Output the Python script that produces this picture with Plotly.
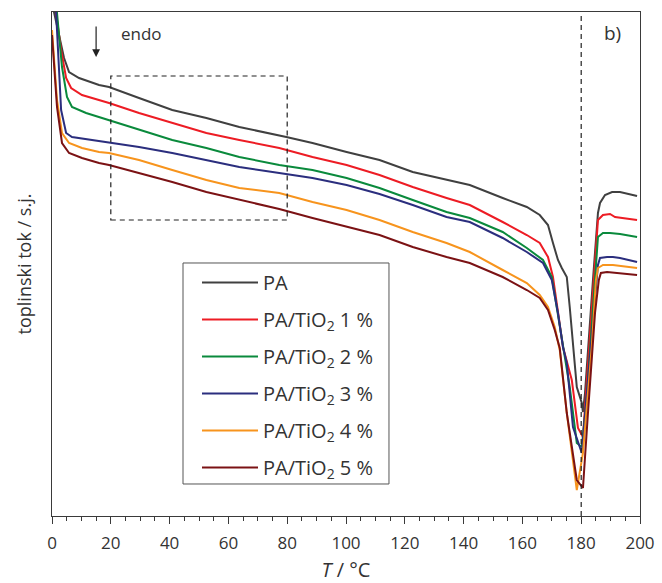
import plotly.graph_objects as go

# DSC heating curves: temperature (°C) vs. heat flow (arbitrary units, endo down)
T_PA = [0, 0.7, 2.4, 4.1, 5.8, 9.2, 16.0, 19.4, 29.6, 40.9, 52.5, 63.7, 79.7, 88.6, 100.2,
        111.4, 122.7, 134.2, 142.1, 153.3, 161.5, 165.9, 168.7, 170.4, 172.1, 173.4, 175.1,
        176.1, 177.2, 178.5, 180.2, 180.6, 181.3, 182.3, 184.0, 185.7, 186.4, 188.1, 190.5,
        193.2, 199.0]
HF_PA = [513, 503, 479, 458, 444, 438, 431, 429, 418, 406, 398, 389, 379, 373, 364,
         356, 344, 336, 331, 318, 309, 301, 291, 273, 256, 248, 239,
         209, 169, 129, 113, 104, 123, 169, 236, 303, 313, 321, 324,
         324, 320]

T_1 = [0, 1.4, 3.1, 4.8, 6.5, 10.2, 16.0, 19.4, 29.6, 40.9, 52.5, 63.7, 77.3, 88.6, 100.2,
       111.4, 122.7, 134.2, 142.1, 153.3, 161.5, 165.9, 168.7, 170.4, 171.7, 173.8, 176.8,
       178.9, 180.6, 181.9, 183.6, 184.0, 184.7, 185.7, 187.4, 189.8, 191.5, 194.2, 199.0]
HF_1 = [533, 503, 466, 438, 428, 421, 416, 413, 403, 393, 383, 376, 368, 359, 351,
        341, 329, 318, 311, 294, 281, 273, 259, 239, 213, 169, 136,
        88, 79, 136, 203, 226, 253, 296, 301, 302, 299, 298, 296]

T_2 = [0, 1.7, 3.4, 5.1, 6.8, 11.6, 16.0, 19.4, 29.6, 40.9, 52.5, 63.7, 77.3, 88.6, 100.2,
       111.4, 122.7, 134.2, 142.1, 153.3, 161.5, 167.0, 170.0, 171.7, 173.8, 176.1, 178.5,
       180.2, 181.9, 183.9, 185.3, 185.7, 187.4, 189.8, 193.2, 199.0]
HF_2 = [557, 503, 449, 419, 409, 403, 399, 396, 386, 376, 368, 359, 351, 346, 338,
        328, 316, 304, 298, 284, 268, 256, 239, 209, 169, 129, 73,
        69, 119, 203, 266, 279, 283, 283, 282, 279]

T_3 = [0, 1.4, 3.1, 4.8, 6.8, 11.6, 19.4, 29.6, 40.9, 52.5, 63.7, 77.3, 88.6, 100.2,
       111.4, 122.7, 134.2, 142.1, 153.3, 161.5, 167.0, 170.0, 172.1, 173.8, 175.1,
       177.2, 180.2, 182.3, 184.7, 185.7, 186.4, 188.8, 190.8, 193.2, 199.0]
HF_3 = [540, 503, 406, 383, 379, 377, 374, 369, 363, 356, 349, 343, 338, 331,
        322, 311, 299, 294, 278, 264, 253, 236, 203, 169, 153,
        89, 63, 136, 216, 251, 258, 259, 259, 258, 254]

T_4 = [0, 1.7, 3.4, 5.8, 10.2, 16.0, 19.4, 29.6, 40.9, 52.5, 63.7, 77.3, 88.6, 100.2,
       111.4, 122.7, 134.2, 142.1, 153.3, 161.5, 165.9, 168.7, 171.0, 172.7, 175.1,
       177.9, 178.5, 180.6, 183.6, 185.0, 185.7, 187.4, 190.8, 199.0]
HF_4 = [486, 416, 383, 373, 368, 364, 363, 356, 346, 336, 328, 323, 314, 306,
        296, 284, 273, 264, 246, 233, 221, 209, 189, 166, 103,
        36, 26, 63, 169, 236, 248, 251, 251, 248]

T_5 = [0, 1.7, 3.4, 5.8, 10.2, 16.0, 19.4, 29.6, 40.9, 52.5, 63.7, 77.3, 88.6, 100.2,
       111.4, 122.7, 134.2, 142.1, 153.3, 161.5, 165.9, 168.7, 171.0, 172.7, 175.1,
       178.5, 180.6, 182.3, 184.7, 186.0, 186.7, 188.8, 193.2, 199.0]
HF_5 = [481, 409, 373, 363, 358, 353, 351, 343, 334, 324, 316, 307, 298, 289,
        281, 269, 259, 253, 239, 226, 218, 206, 186, 168, 103,
        36, 28, 103, 203, 236, 243, 244, 243, 241]

SERIES = [
    ("PA", T_PA, HF_PA, "#404040"),
    ("PA/TiO<sub>2</sub> 1 %", T_1, HF_1, "#ed1c24"),
    ("PA/TiO<sub>2</sub> 2 %", T_2, HF_2, "#0a8a3c"),
    ("PA/TiO<sub>2</sub> 3 %", T_3, HF_3, "#2b2e7e"),
    ("PA/TiO<sub>2</sub> 4 %", T_4, HF_4, "#f7941d"),
    ("PA/TiO<sub>2</sub> 5 %", T_5, HF_5, "#7b1214"),
]

# zoomed region and melting-peak marker
BOX_T = [20, 80]
BOX_HF = [296, 440]
T_MELT = 180
ARROW_T = 15

FONT = "Open Sans"
TEXT_COLOR = "#333333"
AXIS_COLOR = "#3a3a3a"
DASH = "5px,4px"

fig = go.Figure()
for i, (name, t, hf, color) in enumerate(SERIES):
    fig.add_trace(go.Scatter(
        x=t, y=hf, mode="lines", name=name, legendgroup=f"g{i}",
        line=dict(color=color, width=2),
    ))

fig.add_shape(type="rect", xref="x", yref="y",
              x0=BOX_T[0], x1=BOX_T[1], y0=BOX_HF[0], y1=BOX_HF[1],
              line=dict(color="#222222", width=1.2, dash=DASH))
fig.add_shape(type="line", xref="x", yref="paper",
              x0=T_MELT, x1=T_MELT, y0=0, y1=1,
              line=dict(color="#222222", width=1.2, dash=DASH))

# legend frame
fig.add_shape(type="rect", xref="paper", yref="paper",
              x0=0.2228, x1=0.5731, y0=0.0635, y1=0.502,
              line=dict(color="#555555", width=1), layer="below")

fig.add_annotation(x=ARROW_T, y=459, ax=ARROW_T, ay=491, xref="x", yref="y",
                   axref="x", ayref="y", text="", showarrow=True,
                   arrowhead=2, arrowsize=1.3, arrowwidth=1.2, arrowcolor="#222222")
fig.add_annotation(x=30.5, y=483, xref="x", yref="y", text="endo", showarrow=False,
                   font=dict(family=FONT, size=17, color=TEXT_COLOR))
fig.add_annotation(x=190.5, y=483, xref="x", yref="y", text="b)", showarrow=False,
                   font=dict(family=FONT, size=19, color=TEXT_COLOR))

fig.update_layout(
    width=662, height=583,
    margin=dict(l=52, r=22, t=12, b=67),
    paper_bgcolor="white", plot_bgcolor="white",
    font=dict(family=FONT, size=18, color=TEXT_COLOR),
    showlegend=True,
    legend=dict(
        x=0.2466, y=0.502, xanchor="left", yanchor="top",
        borderwidth=0, bgcolor="rgba(0,0,0,0)",
        tracegroupgap=8, font=dict(family=FONT, size=20, color=TEXT_COLOR),
        itemwidth=56,
    ),
    xaxis=dict(
        range=[0, 200], tickmode="linear", tick0=0, dtick=20,
        ticks="outside", ticklen=7, tickwidth=1, tickcolor=AXIS_COLOR,
        ticklabelstandoff=5,
        minor=dict(dtick=5, ticks="outside", ticklen=4, tickcolor=AXIS_COLOR, showgrid=False),
        showline=True, linecolor=AXIS_COLOR, linewidth=1, mirror=True,
        showgrid=False, zeroline=False, automargin=False,
        tickfont=dict(family=FONT, size=17, color=TEXT_COLOR),
        title=dict(text="<i>T</i> / °C", font=dict(family=FONT, size=20, color=TEXT_COLOR),
                   standoff=10),
    ),
    yaxis=dict(
        range=[0, 504], showticklabels=False, ticks="",
        showline=True, linecolor=AXIS_COLOR, linewidth=1, mirror=True,
        showgrid=False, zeroline=False, automargin=False,
        title=dict(text="toplinski tok / s.j.", font=dict(family=FONT, size=18, color=TEXT_COLOR),
                   standoff=14),
    ),
)

fig.write_html("out.html")
